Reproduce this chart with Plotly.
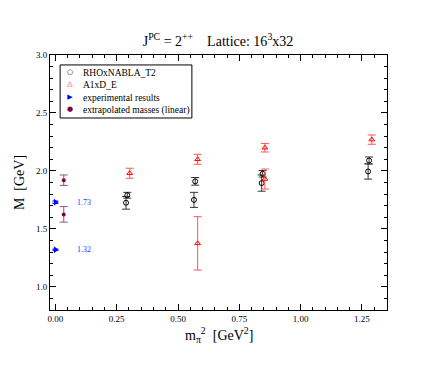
import plotly.graph_objects as go

# RHOxNABLA_T2 (black open circles)
rho_x = [0.293, 0.288, 0.570, 0.565, 0.845, 0.841, 1.279, 1.275]
rho_m = [1.79, 1.725, 1.91, 1.75, 1.975, 1.895, 2.09, 1.995]
rho_err = [0.025, 0.055, 0.033, 0.065, 0.028, 0.07, 0.03, 0.066]

# A1xD_E (red open triangles)
a1_x = [0.303, 0.580, 0.580, 0.854, 0.854, 1.290]
a1_m = [1.98, 2.10, 1.375, 2.20, 1.93, 2.27]
a1_err = [0.043, 0.043, 0.23, 0.037, 0.086, 0.04]

# experimental results
exp_x = [0.0, 0.0]
exp_m = [1.73, 1.32]
exp_err = [0.01, 0.005]
exp_lbl = ["1.73", "1.32"]

# extrapolated masses (linear)
ext_x = [0.034, 0.034]
ext_m = [1.92, 1.625]
ext_err = [0.045, 0.067]

legend_names = ["RHOxNABLA_T2", "A1xD_E", "experimental results", "extrapolated masses (linear)"]
legend_syms = ["○", "△", "▶", "●"]
legend_cols = ["black", "red", "blue", "#800040"]

serif = "Liberation Serif, Times New Roman, serif"

fig = go.Figure()
fig.add_trace(go.Scatter(
    x=rho_x, y=rho_m, mode="markers", name=legend_names[0],
    marker=dict(symbol="circle-open", size=5, color="black", line=dict(width=1)),
    error_y=dict(type="data", array=rho_err, color="#333333", thickness=1, width=4)))
fig.add_trace(go.Scatter(
    x=a1_x, y=a1_m, mode="markers", name=legend_names[1],
    marker=dict(symbol="triangle-up-open", size=5, color="red", line=dict(width=1)),
    error_y=dict(type="data", array=a1_err, color="#ff5555", thickness=1, width=4)))
fig.add_trace(go.Scatter(
    x=exp_x, y=exp_m, mode="markers", name=legend_names[2],
    marker=dict(symbol="triangle-right", size=6, color="blue"),
    error_y=dict(type="data", array=exp_err, color="blue", thickness=1, width=3)))
fig.add_trace(go.Scatter(
    x=ext_x, y=ext_m, mode="markers", name=legend_names[3],
    marker=dict(symbol="circle", size=4, color="#800040"),
    error_y=dict(type="data", array=ext_err, color="#9a5080", thickness=1, width=4)))

for xv, yv, t in zip(exp_x, exp_m, exp_lbl):
    fig.add_annotation(x=xv + 0.08, y=yv, text=t, showarrow=False, xanchor="left",
                       font=dict(family=serif, size=8, color="#3333ff"))

# compact xmgrace-style legend: a box, a column of symbols and a column of names
fig.add_shape(type="rect", xref="paper", yref="paper", x0=0.03, x1=0.421, y0=0.753, y1=0.961,
              line=dict(color="black", width=1), fillcolor="white", layer="above")
fig.add_annotation(xref="paper", yref="paper", x=0.093, y=0.956, xanchor="left", yanchor="top",
                   text="<br>".join(legend_names), showarrow=False, align="left",
                   font=dict(family=serif, size=9.5, color="black"))
fig.add_annotation(xref="paper", yref="paper", x=0.06, y=0.956, xanchor="center", yanchor="top",
                   text="<br>".join(f"<span style='color:{c};font-size:7px'>{s}</span>"
                                    for s, c in zip(legend_syms, legend_cols)),
                   showarrow=False, align="center",
                   font=dict(family="DejaVu Sans", size=9.5, color="black"))

axis_common = dict(
    showline=True, linecolor="black", linewidth=1, mirror="allticks",
    ticks="inside", ticklen=6, tickcolor="black", showgrid=False, zeroline=False,
    tickfont=dict(family=serif, size=9, color="black"),
)
fig.update_xaxes(range=[-0.022, 1.352], tick0=0, dtick=0.25, tickformat=".2f",
                 minor=dict(dtick=0.05, ticks="inside", ticklen=3, tickcolor="black"),
                 **axis_common)
fig.update_yaxes(range=[0.8, 3.0], tick0=0, dtick=0.5, tickformat=".1f",
                 minor=dict(dtick=0.1, ticks="inside", ticklen=3, tickcolor="black"),
                 title=dict(text="M  [GeV]", font=dict(family=serif, size=14, color="black"),
                            standoff=8),
                 **axis_common)

fig.add_annotation(xref="paper", yref="paper", x=0.5, y=-0.05, xanchor="center", yanchor="top",
                   text="m<sub>π</sub><sup>2</sup>  [GeV<sup>2</sup>]", showarrow=False,
                   font=dict(family=serif, size=14, color="black"))

fig.update_layout(
    width=436, height=365,
    margin=dict(l=50, r=49, t=55, b=55),
    plot_bgcolor="white", paper_bgcolor="white",
    title=dict(text="J<sup>PC</sup> = 2<sup>++</sup>    Lattice: 16<sup>3</sup>x32",
               x=0.5, xanchor="center", y=0.875, yanchor="bottom",
               font=dict(family=serif, size=14, color="black")),
    showlegend=False,
)

fig.write_html("out.html", config={"displayModeBar": False},
               post_script="document.body.style.margin='0';")
